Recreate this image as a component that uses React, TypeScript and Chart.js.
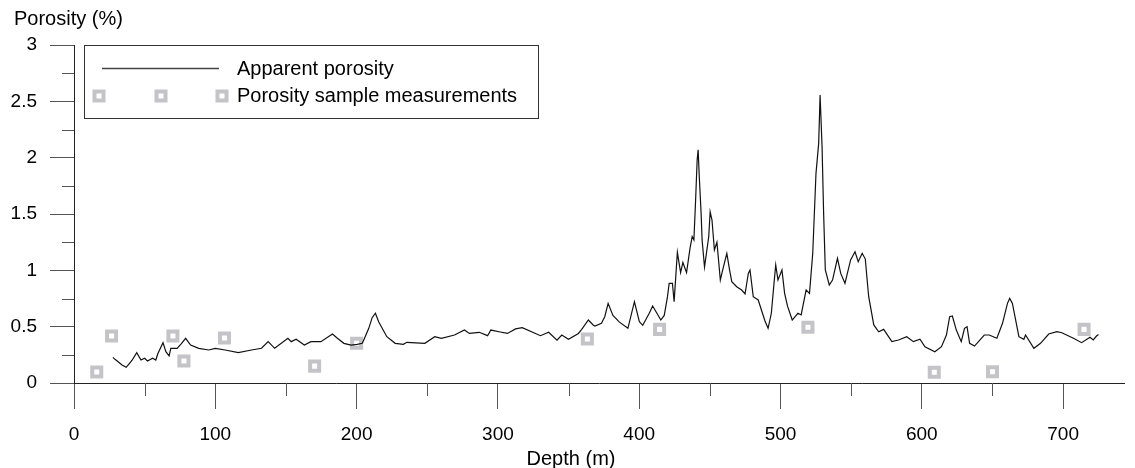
import React, { useEffect, useRef } from "react";
import { Chart, registerables } from "chart.js";

Chart.register(...registerables);

const depth = [
  27.5, 29, 31, 34, 36.9, 39, 41, 44.4, 47.4, 50, 52, 55.6, 57.9, 59.3, 63, 65, 67.3, 68.5, 73, 76, 79, 82.5, 88.3,
  95.3, 100, 107, 116.3, 125.6, 132.7, 137.4, 142, 151.4, 153.7, 157.2, 163, 167.7, 174.7, 182.9, 186.4, 191, 196,
  200.4, 204, 205, 208.6, 211, 213.3, 215.6, 221.4, 227.3, 233.1, 235.5, 248.3, 255.3, 260, 269.3, 276.3, 279.8,
  286.8, 292.7, 295, 300.8, 306.7, 312.5, 317.2, 326.6, 330.1, 335.9, 341.8, 345.2, 349.9, 357, 359.3, 364, 367.4,
  368.6, 373.3, 375.6, 378, 381.4, 386, 392, 396.6, 400.1, 402.5, 407.1, 409.5, 412, 415.3, 417.7, 418.8, 420, 421.2,
  423.5, 424.7, 427, 429.3, 430.9, 433.5, 436, 437.5, 438.7, 439.9, 441, 441.7, 442.4, 443.8, 444.5, 446.2, 447, 449.2,
  450.2, 451.5, 453.2, 455, 457.4, 458.5, 460, 462, 464, 465.5, 469, 472.5, 474.9, 477.2, 478.4, 480.7, 484.2, 486.5,
  489, 491.2, 493.5, 495.5, 496.6, 498.2, 501, 502.9, 505, 508.3, 512.3, 514.6, 518.1, 520.5, 522.8, 525.1, 527, 528,
  529.4, 530.5, 531.7, 534.5, 536.8, 540.3, 542.6, 545.6, 549.6, 552.7, 555, 557.8, 560, 561.3, 562.4, 566, 569.5, 573,
  578.8, 583.5, 589.3, 594, 598.7, 602.2, 609.2, 613.9, 617.4, 619.7, 621.6, 624.4, 627.9, 630.2, 632, 633.8, 637.3,
  644.2, 647.7, 653.1, 657.1, 660.6, 662.2, 664.1, 668.7, 672.2, 673.4, 679.3, 684, 689.8, 695.6, 699.1, 707.3, 713.1,
  719, 721.3, 723.6, 725,
];
const porosity = [
  0.227, 0.21, 0.19, 0.16, 0.139, 0.17, 0.2, 0.27, 0.204, 0.22, 0.195, 0.22, 0.204, 0.26, 0.358, 0.278, 0.24, 0.308,
  0.308, 0.35, 0.397, 0.337, 0.308, 0.293, 0.308, 0.293, 0.27, 0.293, 0.308, 0.367, 0.308, 0.397, 0.367, 0.388, 0.337,
  0.367, 0.367, 0.435, 0.397, 0.352, 0.337, 0.343, 0.352, 0.38, 0.485, 0.58, 0.619, 0.544, 0.411, 0.352, 0.343, 0.361,
  0.352, 0.411, 0.397, 0.426, 0.47, 0.44, 0.45, 0.42, 0.47, 0.455, 0.44, 0.48, 0.491, 0.44, 0.42, 0.45, 0.38, 0.426,
  0.388, 0.44, 0.476, 0.559, 0.515, 0.506, 0.53, 0.588, 0.707, 0.6, 0.54, 0.485, 0.722, 0.544, 0.512, 0.619, 0.683,
  0.63, 0.559, 0.6, 0.677, 0.766, 0.885, 0.885, 0.722, 1.16, 0.98, 1.07, 0.98, 1.2, 1.3, 1.27, 1.62, 1.98, 2.07, 1.86,
  1.506, 1.27, 1.03, 1.1, 1.3, 1.52, 1.447, 1.18, 1.25, 0.914, 0.973, 1.05, 1.15, 1.0, 0.9, 0.855, 0.825, 0.79, 0.973,
  1.003, 0.766, 0.737, 0.648, 0.55, 0.485, 0.619, 0.9, 1.047, 0.914, 1.003, 0.796, 0.68, 0.559, 0.619, 0.604, 0.825,
  0.796, 1.151, 1.861, 2.127, 2.556, 2.097, 1.506, 1.003, 0.87, 0.914, 1.107, 0.973, 0.885, 1.092, 1.165, 1.077, 1.151,
  1.1, 0.914, 0.766, 0.515, 0.455, 0.476, 0.367, 0.382, 0.411, 0.367, 0.388, 0.322, 0.278, 0.322, 0.426, 0.589, 0.595,
  0.47, 0.367, 0.485, 0.5, 0.352, 0.328, 0.426, 0.426, 0.397, 0.53, 0.707, 0.751, 0.707, 0.411, 0.388, 0.426, 0.308,
  0.352, 0.435, 0.455, 0.446, 0.397, 0.358, 0.406, 0.382, 0.417, 0.43,
];

const sampleDepth = [16.1, 26.6, 70, 77.8, 106.5, 170.3, 200, 363.3, 414.4, 519.4, 608.8, 650, 714.8];
const sampleValue = [0.098, 0.417, 0.417, 0.195, 0.4, 0.15, 0.352, 0.39, 0.476, 0.495, 0.096, 0.1, 0.476];

const xMajorTicks = [0, 100, 200, 300, 400, 500, 600, 700];
const xMinorTicks = [50, 150, 250, 350, 450, 550, 650];
const yMajorTicks = [0, 0.5, 1, 1.5, 2, 2.5, 3];
const yMinorTicks = [0.25, 0.75, 1.25, 1.75, 2.25, 2.75];

const lineLabel = "Apparent porosity";
const sampleLabel = "Porosity sample measurements";
const xTitle = "Depth (m)";
const yTitle = "Porosity (%)";

const FONT = "Liberation Sans, Arial, sans-serif";
const SAMPLE_GRAY = "#c4c4c8";
const TICK_COLOR = "#555";

function drawSample(ctx: CanvasRenderingContext2D, x: number, y: number) {
  ctx.fillStyle = SAMPLE_GRAY;
  ctx.fillRect(Math.round(x) - 6.5, Math.round(y) - 6.5, 13, 13);
  ctx.fillStyle = "#fff";
  ctx.fillRect(Math.round(x) - 2.5, Math.round(y) - 2.5, 5, 5);
}

const decorPlugin = {
  id: "decor",
  afterDraw(chart: any) {
    const ctx: CanvasRenderingContext2D = chart.ctx;
    const xs = chart.scales.x;
    const ys = chart.scales.y;
    ctx.save();
    // minor ticks
    ctx.strokeStyle = TICK_COLOR;
    ctx.lineWidth = 1;
    ctx.beginPath();
    yMinorTicks.forEach((v) => {
      const py = Math.round(ys.getPixelForValue(v)) + 0.5;
      ctx.moveTo(xs.left - 12, py);
      ctx.lineTo(xs.left, py);
    });
    xMinorTicks.forEach((v) => {
      const px = Math.round(xs.getPixelForValue(v)) + 0.5;
      ctx.moveTo(px, ys.bottom);
      ctx.lineTo(px, ys.bottom + 13);
    });
    ctx.stroke();

    // titles
    ctx.fillStyle = "#000";
    ctx.font = `20px ${FONT}`;
    ctx.textBaseline = "middle";
    ctx.textAlign = "left";
    ctx.fillText(yTitle, 14, 19);
    ctx.textAlign = "center";
    ctx.fillText(xTitle, 571, 459);

    // legend
    ctx.strokeStyle = "#333";
    ctx.lineWidth = 1;
    ctx.strokeRect(84.5, 45.5, 454, 73);
    ctx.strokeStyle = "#444";
    ctx.lineWidth = 1.3;
    ctx.beginPath();
    ctx.moveTo(102, 68.5);
    ctx.lineTo(219, 68.5);
    ctx.stroke();
    [99, 161, 222].forEach((x) => drawSample(ctx, x, 96));
    ctx.fillStyle = "#000";
    ctx.textAlign = "left";
    ctx.fillText(lineLabel, 237, 69);
    ctx.fillText(sampleLabel, 237, 96);
    ctx.restore();
  },
};

export default function App() {
  const ref = useRef<HTMLCanvasElement | null>(null);
  useEffect(() => {
    if (!ref.current) return;
    const chart = new Chart(ref.current, {
      type: "scatter",
      data: {
        datasets: [
          {
            label: lineLabel,
            data: depth.map((d, i) => ({ x: d, y: porosity[i] })),
            showLine: true,
            borderColor: "#111",
            borderWidth: 1.2,
            pointRadius: 0,
            tension: 0,
            order: 0,
          },
          {
            label: sampleLabel,
            data: sampleDepth.map((d, i) => ({ x: d, y: sampleValue[i] })),
            showLine: false,
            pointStyle: "rect",
            pointRadius: 6.4,
            borderWidth: 4,
            borderColor: SAMPLE_GRAY,
            backgroundColor: "#fff",
            order: 1,
          },
        ],
      },
      options: {
        responsive: false,
        animation: false,
        devicePixelRatio: 1,
        layout: { padding: { top: 45, right: 0, left: 0, bottom: 0 } },
        plugins: { legend: { display: false }, tooltip: { enabled: false } },
        scales: {
          x: {
            type: "linear",
            min: 0,
            max: 743.5,
            afterBuildTicks: (s: any) => {
              s.ticks = xMajorTicks.map((v) => ({ value: v }));
            },
            afterFit: (s: any) => {
              s.height = 85;
            },
            grid: { drawOnChartArea: false, drawTicks: true, tickLength: 26, color: TICK_COLOR },
            border: { display: true, color: "#222", width: 1 },
            ticks: {
              font: { family: FONT, size: 19 },
              color: "#000",
              padding: 14,
              maxRotation: 0,
              callback: (v: any) => String(v),
            },
          },
          y: {
            type: "linear",
            min: 0,
            max: 3,
            afterBuildTicks: (s: any) => {
              s.ticks = yMajorTicks.map((v) => ({ value: v }));
            },
            afterFit: (s: any) => {
              s.width = 74;
            },
            grid: { drawOnChartArea: false, drawTicks: true, tickLength: 24, color: TICK_COLOR },
            border: { display: true, color: "#222", width: 1 },
            ticks: {
              font: { family: FONT, size: 19 },
              color: "#000",
              padding: 13,
              callback: (v: any) => String(v),
            },
          },
        },
      },
      plugins: [decorPlugin],
    });
    return () => chart.destroy();
  }, []);
  return (
    <div style={{ position: "absolute", left: 0, top: 0, width: 1135, height: 468, background: "#fff" }}>
      <canvas ref={ref} width={1135} height={468} />
    </div>
  );
}
